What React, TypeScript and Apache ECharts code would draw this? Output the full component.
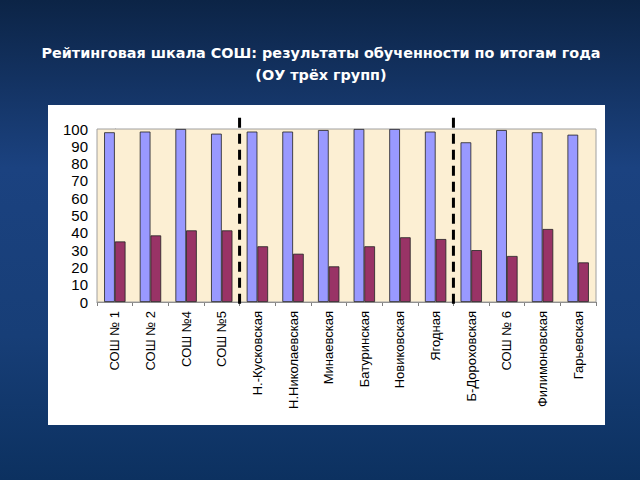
import React, { useEffect, useRef } from "react";
import * as echarts from "echarts";

const categories = [
  "СОШ № 1",
  "СОШ № 2",
  "СОШ №4",
  "СОШ №5",
  "Н.-Кусковская",
  "Н.Николаевская",
  "Минаевская",
  "Батуринская",
  "Новиковская",
  "Ягодная",
  "Б-Дороховская",
  "СОШ № 6",
  "Филимоновская",
  "Гарьевская",
];
const blueValues = [98.1, 98.5, 100, 97.3, 98.5, 98.5, 99.4, 100, 100, 98.5, 92.3, 99.4, 98.1, 96.7];
const redValues = [35, 38.5, 41.4, 41.4, 32.2, 27.9, 20.6, 32.2, 37.4, 36.4, 30, 26.6, 42.2, 22.9];
const separators = [3.5, 9.5];
const titleLines = [
  "Рейтинговая шкала СОШ: результаты обученности по итогам года",
  "(ОУ трёх групп)",
];

export default function App() {
  const ref = useRef<HTMLDivElement>(null);
  useEffect(() => {
    if (!ref.current) return;
    const chart = echarts.init(ref.current, undefined, { renderer: "svg" });
    const titleStyle = {
      fill: "#ffffff",
      fontFamily: "DejaVu Sans",
      fontWeight: "bold",
      fontSize: 14.4,
      align: "center",
      verticalAlign: "middle",
    };
    chart.setOption({
      animation: false,
      backgroundColor: {
        type: "linear",
        x: 0,
        y: 0,
        x2: 0,
        y2: 1,
        colorStops: [
          { offset: 0, color: "#0c2446" },
          { offset: 0.35, color: "#1b4280" },
          { offset: 0.7, color: "#173e77" },
          { offset: 1, color: "#0c3160" },
        ],
      },
      graphic: [
        {
          type: "rect",
          z: -1,
          shape: { x: 48, y: 105, width: 557, height: 320 },
          style: { fill: "#ffffff" },
        },
        {
          type: "text",
          x: 321,
          y: 53,
          style: { ...titleStyle, text: titleLines[0] },
        },
        {
          type: "text",
          x: 321,
          y: 75,
          style: { ...titleStyle, text: titleLines[1] },
        },
      ],
      grid: {
        left: 97,
        right: 44,
        top: 129,
        bottom: 178,
        show: true,
        backgroundColor: "#fcefd3",
        borderColor: "#a0a0a0",
        borderWidth: 1,
        z: 1,
      },
      xAxis: [
        {
          type: "category",
          data: categories,
          axisLine: { lineStyle: { color: "#808080", width: 1 } },
          axisTick: { show: true, length: 4, lineStyle: { color: "#808080" } },
          axisLabel: {
            rotate: 90,
            fontSize: 13,
            fontFamily: "Liberation Sans",
            color: "#000",
            margin: 9,
          },
          splitLine: { show: false },
        },
        {
          type: "value",
          min: -0.5,
          max: 13.5,
          show: false,
        },
      ],
      yAxis: {
        type: "value",
        min: 0,
        max: 100,
        interval: 10,
        axisLine: { show: true, lineStyle: { color: "#808080" } },
        axisTick: { show: true, length: 4, lineStyle: { color: "#808080" } },
        axisLabel: {
          fontSize: 15,
          fontFamily: "Liberation Sans",
          color: "#000",
          margin: 9,
        },
        splitLine: { show: true, lineStyle: { color: "#a0a0a0", width: 1 } },
      },
      series: [
        {
          type: "bar",
          data: blueValues,
          barGap: "0%",
          barCategoryGap: "40%",
          itemStyle: { color: "#9999ff", borderColor: "#222", borderWidth: 0.8 },
        },
        {
          type: "bar",
          data: redValues,
          barGap: "0%",
          barCategoryGap: "40%",
          itemStyle: { color: "#993366", borderColor: "#222", borderWidth: 0.8 },
        },
        {
          type: "custom",
          xAxisIndex: 1,
          clip: false,
          z: 10,
          data: separators.map((s) => [s]),
          renderItem: (params: any, api: any) => {
            const x = api.value(0);
            const p1 = api.coord([x, 106.5]);
            const p2 = api.coord([x, -3]);
            return {
              type: "line",
              shape: { x1: p1[0], y1: p1[1], x2: p2[0], y2: p2[1] },
              style: { stroke: "#000", lineWidth: 3, lineDash: [10, 6] },
            };
          },
        },
      ],
    });
    return () => chart.dispose();
  }, []);
  return (
    <div
      ref={ref}
      style={{ position: "fixed", left: 0, top: 0, width: 640, height: 480 }}
    />
  );
}
